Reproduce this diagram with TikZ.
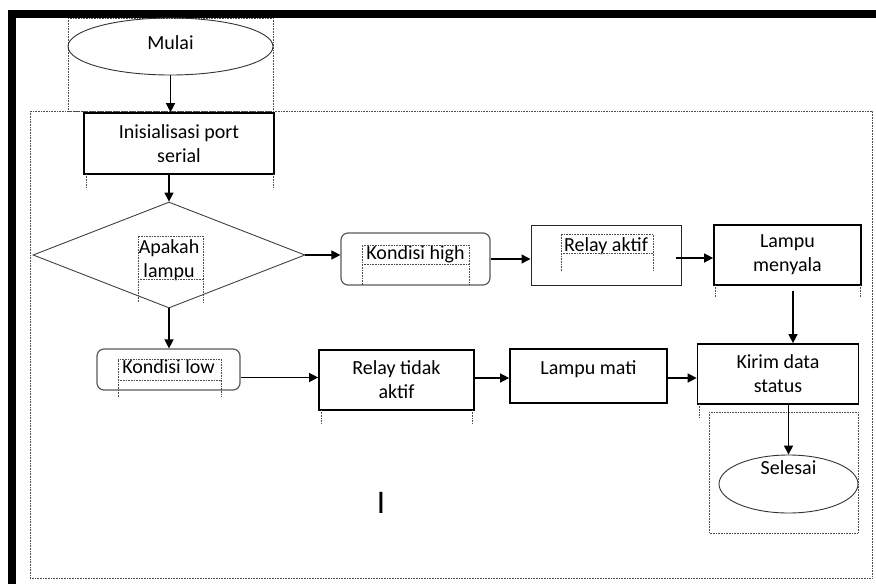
\documentclass[tikz,border=0pt]{standalone}
\usepackage{fontspec}
\setmainfont{Carlito}
\usetikzlibrary{shapes.geometric,arrows.meta}

\begin{document}
\begin{tikzpicture}[
    x=1pt, y=-1pt,
    font=\fontsize{20}{24}\selectfont,
    startstop/.style={ellipse, draw=black!80, line width=0.9pt, inner sep=2pt},
    process/.style={rectangle, draw=black, line width=1.7pt, align=center},
    plainbox/.style={rectangle, draw=black!85, line width=1pt, align=center},
    state/.style={rectangle, draw=black!65, line width=1.2pt, rounded corners=7pt, align=center},
    decision/.style={diamond, draw=black!75, line width=0.9pt, aspect=2.5, inner sep=0pt, align=center},
    frame/.style={densely dotted, line width=0.6pt, black!70},
    arrow/.style={-{Triangle[length=9pt, width=9pt]}, line width=1.4pt},
]
    \useasboundingbox (0,0) rectangle (876,584);

    % Page frame
    \fill[black] (8,10) rectangle (876,18);
    \fill[black] (8,10) rectangle (16,584);
    \draw[frame] (30,111) rectangle (872,578);
    \draw[frame] (68,18) rectangle (273,111);
    \draw[frame] (709,412) rectangle (858,533);

    % Start and first steps
    \node[startstop, minimum width=205pt, minimum height=57pt, text depth=8pt] (mulai) at (170.5,46.5) {Mulai};
    \node[process, minimum width=190pt, minimum height=61pt] (init) at (179,143.5) {Inisialisasi port\\serial};
    \node[decision, minimum width=272pt, minimum height=106pt, text height=49pt] (tanya) at (169,255) {Apakah\\lampu};

    % High branch
    \node[state, minimum width=149pt, minimum height=52pt, text depth=13pt] (high) at (415.5,259) {Kondisi high};
    \node[plainbox, minimum width=150pt, minimum height=60pt, text depth=21pt] (relayon) at (606,255) {Relay aktif};
    \node[process, minimum width=147pt, minimum height=60pt] (nyala) at (787.5,255) {Lampu\\menyala};

    % Low branch
    \node[state, minimum width=143pt, minimum height=41pt, text depth=6pt] (low) at (168.5,369.5) {Kondisi low};
    \node[process, minimum width=155pt, minimum height=60pt] (relayoff) at (396.5,380) {Relay tidak\\aktif};
    \node[process, minimum width=157pt, minimum height=54pt, text depth=17pt] (mati) at (588.5,376) {Lampu mati};

    % End
    \node[process, minimum width=161pt, minimum height=60pt] (kirim) at (778,374) {Kirim data\\status};
    \node[startstop, minimum width=139pt, minimum height=58pt, label={[yshift=16pt]center:Selesai}] (selesai) at (788.5,484) {};

    \node[font=\fontsize{33}{36}\selectfont, inner sep=0pt] (kursor) at (381,502.5) {I};

    % Dotted text frames
    \draw[frame] (86,174) -- (86,187) (273,174) -- (273,187);
    \draw[frame] (138,302) -- (138,236) -- (203,236) -- (203,302) (138,279) -- (203,279);
    \draw[frame] (362,285) -- (362,245) -- (469,245) -- (469,285) (362,264) -- (469,264);
    \draw[frame] (561,271) -- (561,234) -- (653,234) -- (653,271) (561,253) -- (653,253);
    \draw[frame] (715,285) -- (715,297) (860,285) -- (860,297);
    \draw[frame] (118,397) -- (118,359) -- (221,359) -- (221,397) (118,380) -- (221,380);
    \draw[frame] (321,410) -- (321,423) (472,410) -- (472,423);
    \draw[frame] (699,404) -- (699,418);

    % Arrows
    \draw[arrow] (mulai.south) -- (mulai.south |- init.north);
    \draw[arrow] (tanya.north |- init.south) -- (tanya.north);
    \draw[arrow] (tanya.east) -- (tanya.east -| high.west);
    \draw[arrow] (high.east) -- (high.east -| relayon.west);
    \draw[arrow] ([xshift=-6pt, yshift=-3pt]relayon.east) -- ([yshift=-3pt]nyala.west);
    \draw[arrow] ([xshift=5.5pt, yshift=-5pt]nyala.south) -- ([xshift=5.5pt]nyala.south |- kirim.north);
    \draw[arrow] (tanya.south) -- (tanya.south |- low.north);
    \draw[arrow] ([yshift=-8pt]low.east) -- ([yshift=-8pt]low.east -| relayoff.west);
    \draw[arrow] ([yshift=2pt]relayoff.east) -- ([yshift=2pt]relayoff.east -| mati.west);
    \draw[arrow] ([yshift=-2pt]mati.east) -- ([yshift=-2pt]mati.east -| kirim.west);
    \draw[arrow] (selesai.north |- kirim.south) -- (selesai.north);

\end{tikzpicture}
\end{document}
